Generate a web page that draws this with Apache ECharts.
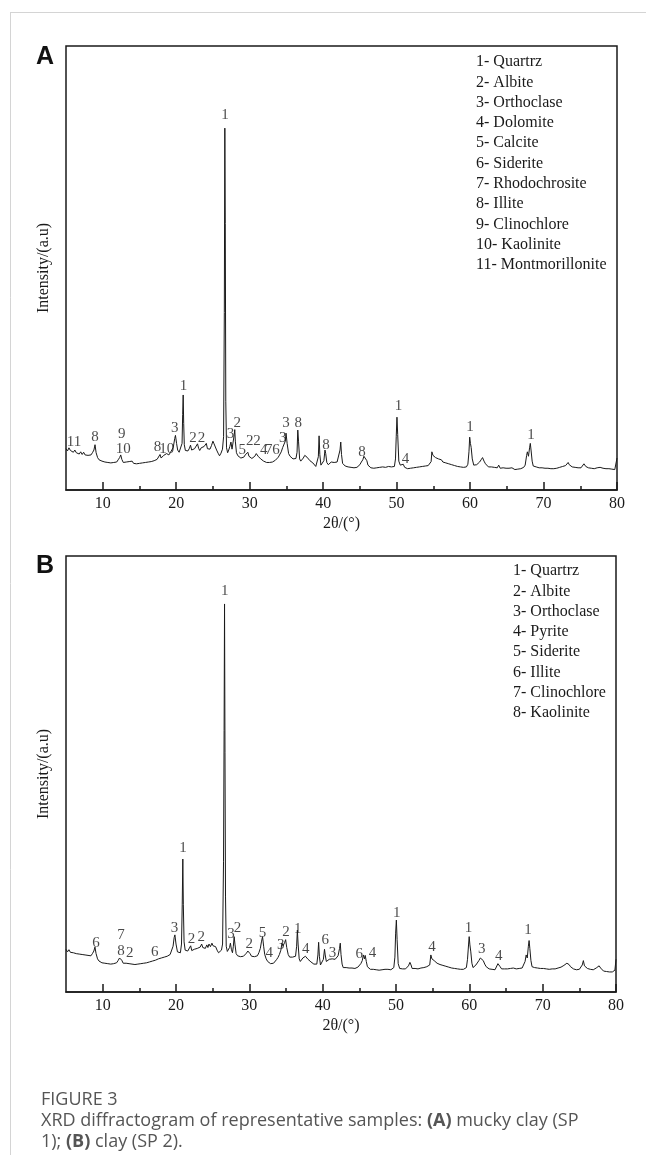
<!DOCTYPE html>
<html><head><meta charset="utf-8">
<script src="https://cdn.jsdelivr.net/npm/echarts@6/dist/echarts.min.js"></script>
<style>html,body{margin:0;padding:0;background:#fff}#c{width:646px;height:1155px}</style>
</head><body><div id="c"></div>
<script>
// X ticks (2θ)
const xMajorTicks = [10,20,30,40,50,60,70,80];
const xMinorTicks = [15,25,35,45,55,65,75];
const legendA = ['1- Quartrz','2- Albite','3- Orthoclase','4- Dolomite','5- Calcite','6- Siderite','7- Rhodochrosite','8- Illite','9- Clinochlore','10- Kaolinite','11- Montmorillonite'];
const legendB = ['1- Quartrz','2- Albite','3- Orthoclase','4- Pyrite','5- Siderite','6- Illite','7- Clinochlore','8- Kaolinite'];

// Panel A pattern: [2θ, intensity (a.u.)]
const patternA = [[5.0,9.3],[5.2,8.8],[5.4,9.5],[5.6,8.9],[5.8,9.2],[6.0,8.5],[6.2,9.0],[6.4,8.4],[6.6,8.8],[6.8,8.1],[7.0,8.6],[7.2,8.0],[7.4,8.5],[7.6,7.9],[7.8,8.3],[8.0,7.8],[8.2,8.2],[8.4,7.9],[8.6,8.4],[8.8,9.0],[8.95,10.2],[9.1,8.4],[9.3,7.3],[9.5,6.8],[9.7,6.9],[9.9,6.5],[10.1,6.7],[10.3,6.3],[10.5,6.6],[10.7,6.2],[10.9,6.5],[11.1,6.1],[11.3,6.4],[11.5,6.2],[11.7,6.6],[11.9,6.3],[12.1,6.8],[12.3,7.3],[12.45,7.9],[12.6,6.9],[12.8,6.2],[13.0,5.9],[13.2,6.3],[13.4,6.0],[13.6,6.4],[13.8,6.1],[14.0,6.5],[14.2,6.0],[14.4,6.3],[14.6,5.9],[14.8,6.2],[15.0,6.0],[15.2,6.4],[15.4,6.1],[15.6,6.5],[15.8,6.2],[16.0,6.6],[16.2,6.3],[16.4,6.7],[16.6,6.4],[16.8,6.8],[17.0,6.6],[17.2,7.0],[17.4,6.9],[17.6,7.3],[17.8,8.0],[17.95,7.2],[18.1,7.5],[18.3,7.8],[18.5,7.6],[18.7,8.2],[18.85,8.5],[19.0,7.9],[19.2,8.4],[19.4,8.8],[19.6,9.6],[19.8,11.6],[19.9,12.3],[20.05,10.5],[20.2,9.0],[20.4,8.5],[20.6,8.4],[20.8,10.5],[20.88,17],[20.95,21.4],[21.02,15],[21.1,10.2],[21.25,8.9],[21.4,9.3],[21.6,8.8],[21.8,9.4],[21.95,10.1],[22.1,9.0],[22.3,8.7],[22.5,9.3],[22.7,9.0],[22.9,10.4],[23.05,9.4],[23.2,8.9],[23.4,9.5],[23.6,9.1],[23.8,9.8],[24.0,9.6],[24.1,10.5],[24.25,9.3],[24.4,9.7],[24.6,9.2],[24.8,10.0],[25.0,11.0],[25.15,10.4],[25.3,10.0],[25.5,9.0],[25.7,8.3],[25.9,7.7],[26.1,8.3],[26.3,9.2],[26.45,12],[26.55,40],[26.62,81.5],[26.68,60],[26.75,20],[26.85,9.5],[27.0,8.4],[27.15,9.0],[27.3,9.8],[27.45,10.8],[27.6,9.2],[27.75,9.6],[27.9,12.5],[27.97,13.6],[28.05,11.0],[28.2,8.4],[28.4,7.7],[28.6,7.5],[28.8,7.2],[29.0,7.6],[29.2,7.4],[29.4,7.9],[29.6,8.0],[29.75,8.5],[29.9,7.6],[30.1,7.3],[30.3,7.1],[30.5,7.4],[30.7,7.6],[30.9,8.2],[31.0,8.6],[31.15,7.6],[31.3,7.2],[31.5,7.0],[31.7,6.8],[31.9,6.5],[32.1,6.7],[32.3,6.2],[32.5,5.9],[32.7,6.2],[32.9,6.0],[33.1,6.3],[33.3,6.5],[33.5,6.7],[33.7,7.0],[33.9,7.4],[34.1,7.8],[34.3,8.6],[34.5,9.6],[34.7,9.2],[34.85,11.0],[34.95,12.8],[35.1,10.5],[35.3,8.2],[35.5,7.6],[35.7,7.2],[35.9,7.0],[36.1,7.4],[36.3,7.1],[36.45,8.5],[36.55,13.5],[36.65,11.0],[36.8,7.0],[36.95,6.5],[37.1,6.8],[37.3,7.2],[37.5,7.8],[37.65,8.1],[37.8,7.4],[38.0,7.0],[38.2,6.6],[38.4,6.4],[38.6,6.1],[38.8,5.9],[39.0,5.3],[39.2,5.2],[39.35,7.5],[39.45,12.2],[39.55,8.0],[39.7,5.6],[39.9,5.8],[40.1,6.6],[40.25,9.0],[40.35,8.2],[40.5,6.2],[40.7,5.7],[40.9,6.1],[41.1,6.3],[41.3,5.9],[41.5,6.2],[41.7,6.0],[41.9,6.3],[42.1,6.6],[42.3,9.0],[42.4,10.8],[42.5,8.0],[42.65,6.0],[42.8,5.6],[43.0,5.4],[43.2,5.6],[43.4,5.2],[43.6,5.5],[43.8,5.1],[44.0,5.4],[44.2,5.0],[44.4,5.3],[44.6,5.1],[44.8,5.5],[45.0,5.7],[45.2,6.3],[45.4,6.8],[45.55,7.6],[45.7,7.2],[45.8,7.9],[45.95,6.6],[46.1,5.6],[46.3,5.3],[46.5,5.0],[46.7,5.2],[46.9,4.9],[47.1,5.2],[47.3,5.0],[47.5,5.3],[47.7,5.1],[47.9,5.4],[48.1,5.2],[48.3,5.6],[48.5,5.1],[48.7,5.0],[48.9,5.3],[49.1,5.0],[49.3,5.2],[49.5,5.0],[49.7,5.3],[49.85,7.0],[49.95,12.0],[50.05,16.4],[50.15,12.5],[50.3,6.5],[50.5,5.6],[50.7,5.4],[50.9,5.8],[51.1,5.1],[51.3,5.0],[51.5,4.8],[51.7,5.1],[51.9,4.9],[52.1,5.2],[52.3,5.0],[52.5,5.3],[52.7,5.1],[52.9,5.4],[53.1,5.2],[53.3,5.5],[53.5,5.3],[53.7,5.6],[53.9,5.4],[54.1,5.7],[54.3,5.5],[54.5,5.8],[54.7,6.4],[54.8,8.6],[54.95,7.8],[55.1,7.4],[55.3,7.3],[55.5,6.9],[55.7,7.0],[55.9,6.6],[56.1,6.8],[56.3,6.3],[56.5,6.5],[56.7,6.1],[56.9,6.2],[57.1,5.9],[57.3,6.1],[57.5,5.7],[57.7,5.9],[57.9,5.5],[58.1,5.7],[58.3,5.3],[58.5,5.6],[58.7,5.2],[58.9,5.4],[59.1,5.1],[59.3,5.4],[59.5,5.2],[59.7,5.8],[59.85,8.6],[59.95,11.9],[60.05,10.5],[60.15,9.6],[60.3,7.0],[60.5,5.6],[60.7,5.4],[60.9,5.7],[61.1,5.9],[61.3,6.3],[61.5,6.8],[61.7,7.3],[61.9,6.5],[62.1,5.9],[62.3,5.5],[62.5,5.2],[62.7,5.0],[62.9,5.2],[63.1,4.9],[63.3,5.1],[63.5,4.8],[63.7,5.0],[63.9,5.6],[64.1,4.9],[64.3,4.8],[64.5,5.0],[64.7,4.7],[64.9,4.9],[65.1,4.6],[65.3,4.9],[65.5,4.7],[65.7,5.0],[65.9,4.8],[66.1,4.6],[66.3,4.9],[66.5,4.7],[66.7,4.9],[66.9,4.8],[67.1,5.0],[67.3,5.1],[67.5,5.6],[67.7,7.8],[67.8,8.6],[67.95,7.6],[68.1,9.5],[68.2,10.5],[68.3,9.0],[68.45,6.5],[68.6,5.4],[68.8,5.0],[69.0,5.2],[69.2,4.9],[69.4,5.0],[69.6,4.8],[69.8,5.0],[70.0,4.7],[70.2,4.9],[70.4,4.7],[70.6,4.9],[70.8,4.6],[71.0,4.8],[71.2,5.0],[71.4,4.8],[71.6,5.1],[71.8,4.9],[72.0,5.2],[72.2,5.1],[72.4,5.4],[72.6,5.3],[72.8,5.6],[73.0,5.5],[73.2,5.9],[73.35,6.2],[73.5,5.7],[73.7,5.4],[73.9,5.2],[74.1,5.0],[74.3,5.1],[74.5,4.8],[74.7,5.0],[74.9,4.8],[75.1,5.0],[75.3,5.1],[75.5,5.9],[75.6,6.0],[75.75,5.3],[75.9,5.2],[76.1,5.0],[76.3,5.1],[76.5,4.9],[76.7,5.0],[76.9,4.8],[77.1,4.9],[77.3,5.0],[77.5,4.8],[77.7,5.1],[77.9,5.3],[78.1,4.9],[78.3,4.7],[78.5,4.8],[78.7,4.6],[78.9,4.8],[79.1,4.5],[79.3,4.7],[79.5,4.4],[79.7,4.6],[79.85,4.8],[80.0,7.2]];

// Panel B pattern: [2θ, intensity (a.u.)]
const patternB = [[5.0,9.8],[5.2,9.2],[5.4,9.7],[5.6,9.1],[5.8,9.5],[6.0,9.0],[6.2,9.4],[6.4,8.8],[6.6,9.2],[6.8,8.7],[7.0,9.1],[7.2,8.6],[7.4,9.0],[7.6,8.5],[7.8,8.8],[8.0,8.4],[8.2,8.7],[8.4,8.3],[8.6,8.8],[8.8,9.4],[8.95,10.3],[9.1,8.8],[9.3,7.6],[9.5,7.1],[9.7,7.0],[9.9,6.7],[10.1,6.9],[10.3,6.6],[10.5,6.8],[10.7,6.5],[10.9,6.8],[11.1,6.4],[11.3,6.7],[11.5,6.5],[11.7,6.9],[11.9,6.7],[12.1,7.2],[12.3,7.8],[12.45,8.2],[12.6,7.3],[12.8,6.6],[13.0,6.3],[13.2,6.6],[13.4,6.2],[13.6,6.5],[13.8,6.1],[14.0,6.4],[14.2,6.0],[14.4,6.3],[14.6,6.0],[14.8,6.4],[15.0,6.1],[15.2,6.5],[15.4,6.2],[15.6,6.6],[15.8,6.3],[16.0,6.7],[16.2,6.5],[16.4,6.9],[16.6,6.7],[16.8,7.1],[17.0,6.9],[17.2,7.3],[17.4,7.2],[17.6,7.6],[17.8,7.4],[18.0,7.8],[18.2,7.6],[18.4,8.0],[18.6,7.8],[18.8,8.2],[19.0,8.1],[19.2,8.6],[19.4,9.0],[19.6,10.5],[19.75,12.5],[19.85,13.1],[20.0,11.0],[20.2,9.2],[20.4,8.9],[20.6,9.0],[20.75,11],[20.85,20],[20.93,30.5],[21.0,20],[21.1,11.5],[21.25,9.6],[21.4,10.0],[21.6,9.4],[21.8,9.8],[22.0,10.6],[22.15,9.5],[22.3,9.2],[22.5,9.8],[22.7,9.4],[22.9,10.0],[23.1,9.6],[23.3,10.3],[23.5,11.0],[23.65,10.2],[23.8,10.5],[24.0,10.0],[24.2,10.8],[24.35,10.2],[24.5,11.0],[24.7,10.4],[24.9,11.2],[25.05,10.6],[25.2,11.0],[25.4,10.4],[25.6,9.6],[25.8,9.0],[26.0,8.9],[26.2,9.6],[26.35,11],[26.48,30],[26.56,60],[26.62,89],[26.68,55],[26.75,22],[26.85,10.5],[27.0,9.3],[27.15,9.6],[27.3,10.2],[27.42,11.2],[27.55,9.8],[27.7,9.0],[27.82,10.5],[27.93,12.7],[28.05,10.8],[28.2,8.8],[28.4,8.3],[28.6,8.5],[28.8,8.1],[29.0,8.4],[29.2,8.2],[29.4,8.6],[29.6,8.9],[29.8,9.4],[29.95,9.7],[30.1,8.8],[30.3,8.2],[30.5,8.4],[30.7,8.1],[30.9,8.5],[31.1,8.3],[31.3,9.0],[31.5,10.0],[31.65,11.5],[31.8,12.7],[31.95,10.5],[32.1,8.6],[32.3,7.6],[32.5,7.0],[32.7,6.6],[32.9,6.5],[33.1,6.8],[33.3,6.6],[33.5,7.0],[33.7,7.4],[33.9,7.9],[34.1,8.6],[34.3,9.6],[34.45,11.2],[34.6,10.6],[34.8,11.3],[34.95,12.0],[35.1,10.2],[35.3,8.6],[35.5,8.0],[35.7,7.8],[35.9,8.0],[36.1,7.7],[36.3,8.2],[36.45,10.5],[36.55,14.2],[36.65,11.0],[36.8,7.6],[36.95,7.0],[37.1,7.3],[37.3,7.8],[37.5,8.0],[37.65,8.2],[37.8,7.8],[38.0,7.5],[38.2,7.2],[38.4,6.9],[38.6,6.6],[38.8,6.4],[39.0,6.3],[39.2,6.4],[39.35,8.5],[39.45,11.4],[39.55,8.2],[39.7,6.2],[39.9,6.5],[40.1,7.5],[40.25,9.8],[40.35,8.5],[40.5,7.0],[40.7,7.2],[40.9,7.5],[41.1,7.2],[41.3,7.6],[41.5,7.3],[41.7,7.5],[41.9,7.8],[42.1,8.3],[42.3,10.0],[42.4,11.2],[42.5,8.6],[42.65,6.4],[42.8,5.6],[43.0,5.4],[43.2,5.6],[43.4,5.3],[43.6,5.5],[43.8,5.2],[44.0,5.5],[44.2,5.2],[44.4,5.4],[44.6,5.3],[44.8,5.7],[45.0,6.0],[45.2,6.5],[45.4,7.2],[45.55,8.5],[45.7,7.6],[45.8,8.4],[45.95,7.0],[46.1,5.8],[46.3,5.4],[46.5,5.2],[46.7,5.5],[46.9,5.2],[47.1,5.4],[47.3,5.1],[47.5,5.3],[47.7,5.0],[47.9,5.3],[48.1,5.1],[48.3,5.4],[48.5,5.2],[48.7,5.5],[48.9,5.2],[49.1,5.4],[49.3,5.1],[49.5,5.3],[49.7,5.6],[49.85,8.0],[49.95,13.5],[50.05,16.5],[50.15,12.0],[50.3,6.5],[50.5,5.4],[50.7,5.1],[50.9,5.3],[51.1,5.0],[51.3,5.3],[51.5,5.4],[51.7,6.0],[51.9,6.8],[52.05,6.2],[52.2,5.4],[52.4,5.2],[52.6,5.4],[52.8,5.1],[53.0,5.3],[53.2,5.2],[53.4,5.5],[53.6,5.3],[53.8,5.6],[54.0,5.5],[54.2,5.8],[54.4,5.7],[54.6,6.2],[54.75,8.5],[54.9,7.6],[55.05,8.0],[55.2,7.2],[55.4,7.0],[55.6,6.6],[55.8,6.8],[56.0,6.3],[56.2,6.5],[56.4,6.1],[56.6,6.2],[56.8,5.9],[57.0,6.0],[57.2,5.7],[57.4,5.9],[57.6,5.5],[57.8,5.7],[58.0,5.4],[58.2,5.6],[58.4,5.3],[58.6,5.5],[58.8,5.2],[59.0,5.4],[59.2,5.2],[59.4,5.5],[59.6,5.6],[59.75,7.5],[59.9,11.0],[59.98,12.7],[60.08,10.8],[60.2,9.2],[60.35,6.6],[60.5,5.6],[60.7,5.8],[60.9,6.2],[61.1,6.6],[61.3,7.2],[61.5,7.8],[61.7,8.0],[61.9,7.2],[62.1,6.4],[62.3,5.8],[62.5,5.4],[62.7,5.3],[62.9,5.4],[63.1,5.2],[63.3,5.3],[63.5,5.1],[63.7,5.4],[63.9,6.5],[64.05,6.9],[64.2,5.8],[64.4,5.3],[64.6,5.1],[64.8,5.3],[65.0,5.0],[65.2,5.3],[65.4,5.1],[65.6,5.4],[65.8,5.2],[66.0,5.5],[66.2,5.2],[66.4,5.3],[66.6,5.1],[66.8,5.4],[67.0,5.3],[67.2,5.5],[67.4,5.9],[67.6,7.0],[67.75,8.5],[67.9,7.8],[68.05,10.5],[68.15,11.8],[68.25,10.0],[68.4,7.2],[68.55,5.8],[68.7,5.4],[68.9,5.6],[69.1,5.3],[69.3,5.5],[69.5,5.2],[69.7,5.4],[69.9,5.2],[70.1,5.4],[70.3,5.1],[70.5,5.3],[70.7,5.1],[70.9,5.2],[71.1,5.0],[71.3,5.3],[71.5,5.1],[71.7,5.3],[71.9,5.2],[72.1,5.5],[72.3,5.4],[72.5,5.7],[72.7,5.8],[72.9,6.1],[73.1,6.3],[73.3,6.6],[73.45,6.9],[73.6,6.3],[73.8,5.8],[74.0,5.5],[74.2,5.3],[74.4,5.4],[74.6,5.1],[74.8,5.3],[75.0,5.2],[75.2,5.5],[75.4,6.2],[75.55,7.2],[75.7,6.0],[75.9,5.6],[76.1,5.4],[76.3,5.5],[76.5,5.2],[76.7,5.3],[76.9,5.1],[77.1,5.4],[77.3,5.5],[77.5,5.8],[77.7,6.0],[77.9,5.5],[78.1,5.1],[78.3,4.8],[78.5,4.9],[78.7,4.7],[78.9,4.8],[79.1,4.6],[79.3,4.8],[79.5,4.6],[79.7,4.7],[79.85,5.0],[80.0,7.5]];

// Peak labels: [2θ, intensity, phase number]
const peakLabelsA = [[6.1,10.9,'11'],[8.95,12.0,'8'],[12.6,12.6,'9'],[12.8,9.2,'10'],[17.45,9.75,'8'],[18.7,9.2,'10'],[19.8,14.0,'3'],[21.0,23.5,'1'],[22.3,11.8,'2'],[23.45,11.8,'2'],[26.65,84.5,'1'],[27.4,12.6,'3'],[28.3,15.0,'2'],[29.0,9.0,'5'],[30.0,11.0,'2'],[31.0,11.0,'2'],[31.9,8.9,'4'],[32.6,8.9,'7'],[33.6,8.9,'6'],[34.5,11.6,'3'],[34.95,15.0,'3'],[36.6,15.0,'8'],[40.4,10.1,'8'],[45.3,8.6,'8'],[50.25,18.9,'1'],[51.2,7.0,'4'],[60.0,14.1,'1'],[68.3,12.4,'1']];
const peakLabelsB = [[9.1,11.2,'6'],[12.5,13.1,'7'],[12.5,9.5,'8'],[13.7,8.9,'2'],[17.1,9.2,'6'],[19.8,14.6,'3'],[20.95,33,'1'],[22.1,12.1,'2'],[23.45,12.7,'2'],[26.65,92,'1'],[27.5,13.3,'3'],[28.4,14.6,'2'],[30.0,10.9,'2'],[31.8,13.6,'5'],[32.7,9.0,'4'],[34.3,10.8,'3'],[35.0,13.8,'2'],[36.6,14.4,'1'],[37.7,9.9,'4'],[40.35,11.8,'6'],[41.35,9.0,'3'],[45.0,8.7,'6'],[46.8,8.9,'4'],[50.1,18.2,'1'],[54.9,10.3,'4'],[59.9,14.6,'1'],[61.7,9.8,'3'],[64.0,8.3,'4'],[68.0,14.1,'1']];

const SERIF = '"Liberation Serif","Times New Roman",serif';
const INK = '#1a1a1a';

function mainX(gi){
  return {type:'value',gridIndex:gi,min:5,max:80,position:'bottom',
    name:'2θ/(°)',nameLocation:'middle',nameGap:26,
    nameTextStyle:{fontFamily:SERIF,fontSize:16,color:INK},
    axisLine:{show:true,lineStyle:{color:INK,width:1.5}},
    axisTick:{show:true,inside:true,length:8,customValues:xMajorTicks,lineStyle:{color:INK,width:1.5}},
    axisLabel:{show:true,customValues:xMajorTicks,margin:6,fontFamily:SERIF,fontSize:16,color:INK},
    splitLine:{show:false}};
}
function minorX(gi){
  return {type:'value',gridIndex:gi,min:5,max:80,position:'bottom',offset:0,
    axisLine:{show:false},
    axisTick:{show:true,inside:true,length:4,customValues:xMinorTicks,lineStyle:{color:INK,width:1.5}},
    axisLabel:{show:false},splitLine:{show:false}};
}
function yAx(gi){
  return {type:'value',gridIndex:gi,min:0,max:100,
    name:'Intensity/(a.u)',nameLocation:'middle',nameGap:14,
    nameTextStyle:{fontFamily:SERIF,fontSize:16,color:INK},
    axisLine:{show:false},axisTick:{show:false},axisLabel:{show:false},splitLine:{show:false}};
}
function lineSeries(data,xi,yi){
  return {type:'line',xAxisIndex:xi,yAxisIndex:yi,data:data,showSymbol:false,symbol:'none',
    lineStyle:{color:INK,width:1},sampling:null,silent:true,z:3};
}
function labelSeries(labels,xi,yi){
  return {type:'scatter',xAxisIndex:xi,yAxisIndex:yi,symbolSize:1,
    itemStyle:{color:'rgba(0,0,0,0)'},silent:true,z:4,
    data:labels.map(l=>({value:[l[0],l[1]],name:l[2]})),
    label:{show:true,position:'inside',formatter:'{b}',fontFamily:SERIF,fontSize:15,color:INK}};
}
function legendGraphic(lines,x,y0){
  return lines.map((t,i)=>({type:'text',x:x,y:y0+i*20.3,
    style:{text:t,font:'16px '+SERIF,fill:INK,verticalAlign:'middle',align:'left'}}));
}

const chart = echarts.init(document.getElementById('c'),null,{renderer:'canvas'});
chart.setOption({
  animation:false,
  backgroundColor:'#fff',
  grid:[
    {left:66,top:46,width:551,height:444,show:true,borderColor:INK,borderWidth:1.5,containLabel:false},
    {left:66,top:556,width:550,height:436,show:true,borderColor:INK,borderWidth:1.5,containLabel:false}
  ],
  xAxis:[mainX(0),minorX(0),mainX(1),minorX(1)],
  yAxis:[yAx(0),yAx(1)],
  series:[
    lineSeries(patternA,0,0),labelSeries(peakLabelsA,0,0),
    lineSeries(patternB,2,1),labelSeries(peakLabelsB,2,1)
  ],
  graphic:[
    {type:'line',shape:{x1:10.5,y1:12,x2:10.5,y2:1155},style:{stroke:'#d4d4d4',lineWidth:1}},
    {type:'line',shape:{x1:10,y1:12.5,x2:646,y2:12.5},style:{stroke:'#d4d4d4',lineWidth:1}},
    {type:'text',x:36,y:57,style:{text:'A',font:'bold 25px "Liberation Sans",Arial,sans-serif',fill:'#111',verticalAlign:'middle'}},
    {type:'text',x:36,y:566,style:{text:'B',font:'bold 25px "Liberation Sans",Arial,sans-serif',fill:'#111',verticalAlign:'middle'}},
    ...legendGraphic(legendA,476,62),
    ...legendGraphic(legendB,513,571),
    {type:'text',x:41,y:1100,style:{text:'FIGURE 3',font:'18px "Open Sans",sans-serif',fill:'#555',verticalAlign:'middle'}},
    {type:'text',x:41,y:1110,style:{
      text:'XRD diffractogram of representative samples: {b|(A)} mucky clay (SP\n1); {b|(B)} clay (SP 2).',
      font:'18px "Open Sans",sans-serif',fill:'#555',lineHeight:21,verticalAlign:'top',
      rich:{b:{fontWeight:'bold',fontFamily:'"Open Sans",sans-serif',fontSize:18,fill:'#555',lineHeight:21}}}}
  ]
});
</script></body></html>
